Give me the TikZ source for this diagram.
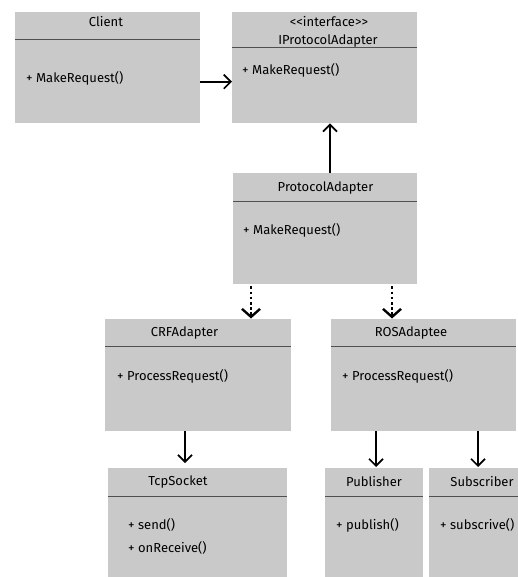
\documentclass[tikz,border=0pt]{standalone}
\usepackage{fontspec}
\setmainfont{Fira Sans}
\usetikzlibrary{arrows.meta}
\definecolor{boxgray}{RGB}{201,201,201}
\definecolor{sepgray}{RGB}{80,80,80}
\tikzset{
  cls/.style={fill=boxgray, draw=none, inner sep=0pt, anchor=north west},
  ttl/.style={inner sep=0pt, font=\fontsize{13}{15}\selectfont},
  mth/.style={inner sep=0pt, anchor=west, font=\fontsize{13}{15}\selectfont},
  sep/.style={draw=sepgray, line width=0.8pt},
  arr/.style={line width=1.7pt, -{Straight Barb[length=7pt,width=14pt,line width=1.7pt]}},
  darr/.style={line width=2.6pt, dash pattern=on 2.6pt off 2.6pt,
    -{Straight Barb[length=8pt,width=18pt,line width=2.4pt]}, shorten >=0.5pt},
}
\begin{document}
\begin{tikzpicture}[x=1pt,y=-1pt]
\useasboundingbox (0,0) rectangle (518,577);
\fill[white] (0,0) rectangle (518,577);

% class boxes
\node[cls, minimum width=185pt, minimum height=111pt] (client) at (15,12) {};
\node[cls, minimum width=185pt, minimum height=111pt] (ipa) at (232,12) {};
\node[cls, minimum width=184pt, minimum height=111pt] (pa) at (233,173) {};
\node[cls, minimum width=186pt, minimum height=112pt] (crf) at (105,319) {};
\node[cls, minimum width=185pt, minimum height=112pt] (ros) at (331,319) {};
\node[cls, minimum width=179pt, minimum height=109pt] (tcp) at (108,468) {};
\node[cls, minimum width=98pt, minimum height=109pt] (pub) at (325,468) {};
\node[cls, minimum width=89pt, minimum height=109pt] (sub) at (429,468) {};

% header separators
\draw[sep] (client.west |- 0,39.5) -- (client.east |- 0,39.5);
\draw[sep] (ipa.west |- 0,47.5) -- (ipa.east |- 0,47.5);
\draw[sep] (pa.west |- 0,201) -- (pa.east |- 0,201);
\draw[sep] (crf.west |- 0,346) -- (crf.east |- 0,346);
\draw[sep] (ros.west |- 0,346) -- (ros.east |- 0,346);
\draw[sep] (tcp.west |- 0,496) -- (tcp.east |- 0,496);
\draw[sep] (pub.west |- 0,496) -- (pub.east |- 0,496);
\draw[sep] (sub.west |- 0,496) -- (sub.east |- 0,496);

% titles
\node[ttl] (clientT) at (106,22) {Client};
\node[ttl] (ipaS) at (329,22) {<{}<interface>{}>};
\node[ttl] (ipaT) at (328,41) {IProtocolAdapter};
\node[ttl] (paT) at (325.5,188) {ProtocolAdapter};
\node[ttl] (crfT) at (184.5,333) {CRFAdapter};
\node[ttl] (rosT) at (411,333) {ROSAdaptee};
\node[ttl] (tcpT) at (178,482) {TcpSocket};
\node[ttl] (pubT) at (374,482) {Publisher};
\node[ttl] (subT) at (482,482) {Subscriber};

% operations
\node[mth] (clientM) at (26,78) {+ MakeRequest()};
\node[mth] (ipaM) at (242,70) {+ MakeRequest()};
\node[mth] (paM) at (243,230) {+ MakeRequest()};
\node[mth] (crfM) at (117,376) {+ ProcessRequest()};
\node[mth] (rosM) at (342,376) {+ ProcessRequest()};
\node[mth] (tcpM1) at (128,525) {+ send()};
\node[mth] (tcpM2) at (128,548) {+ onReceive()};
\node[mth] (pubM) at (336,525) {+ publish()};
\node[mth] (subM) at (440,525) {+ subscrive()};

% associations and realizations
\draw[arr] ([yshift=-14pt]client.east) -- ([yshift=-14pt]ipa.west);
\draw[arr] (pa.north -| 330,0) -- (ipa.south -| 330,0);
\draw[darr] ([yshift=-2pt]pa.south -| 251,0) -- (crf.north -| 251,0);
\draw[darr] ([yshift=-2pt]pa.south -| 392,0) -- (ros.north -| 392,0);
\draw[arr] (crf.south -| 185,0) -- ([yshift=5pt]tcp.north -| 185,0);
\draw[arr] (ros.south -| 376,0) -- ([yshift=1pt]pub.north -| 376,0);
\draw[arr] (ros.south -| 478,0) -- ([yshift=1pt]sub.north -| 478,0);
\end{tikzpicture}
\end{document}
